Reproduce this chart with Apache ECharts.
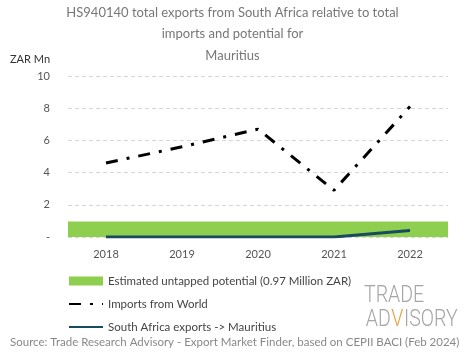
<!DOCTYPE html>
<html><head><meta charset="utf-8">
<script src="https://cdn.jsdelivr.net/npm/echarts@6/dist/echarts.min.js"></script>
<style>html,body{margin:0;padding:0;background:#fff}#c{width:465px;height:359px}</style>
</head><body><div id="c"></div>
<script>
const categories = ['2018','2019','2020','2021','2022'];
const importsWorld = [4.6, 5.6, 6.7, 2.9, 8.1];
const saExports = [0, 0, 0, 0, 0.4];
const potential = [0.97, 0.97, 0.97, 0.97, 0.97];
const yTicks = [0, 2, 4, 6, 8, 10];

const font = 'Lato';
const chart = echarts.init(document.getElementById('c'));
chart.setOption({
  animation: false,
  textStyle: { fontFamily: font },
  title: {
    text: 'HS940140 total exports from South Africa relative to total\nimports and potential for\nMauritius',
    left: 'center', top: -3,
    textStyle: { fontSize: 13, fontWeight: 'normal', color: '#777', lineHeight: 21.5, fontFamily: font }
  },
  graphic: [
    { type: 'text', left: 10, top: 54, style: { text: 'ZAR Mn', fontSize: 11, fill: '#333', fontFamily: font } },
    { type: 'text', left: 10, top: 336, style: { text: 'Source: Trade Research Advisory - Export Market Finder, based on CEPII BACI (Feb 2024)', fontSize: 11.5, fill: '#888', fontFamily: font } },
    { type: 'group', x: 364, y: 285, scaleX: 0.85, children: [
      { type: 'text', x: 0, y: 0, style: { text: 'TRADE', fontSize: 23, fill: '#a6a6a6', fontWeight: 300, fontFamily: 'Roboto' } },
      { type: 'text', x: 2, y: 24, style: { text: 'AD', fontSize: 23, fill: '#a6a6a6', fontWeight: 300, fontFamily: 'Roboto' } },
      { type: 'text', x: 32, y: 24, style: { text: 'V', fontSize: 23, fill: '#e6a040', fontWeight: 300, fontFamily: 'Roboto' } },
      { type: 'text', x: 47, y: 24, style: { text: 'ISORY', fontSize: 23, fill: '#a6a6a6', fontWeight: 300, fontFamily: 'Roboto' } }
    ] }
  ],
  legend: {
    orient: 'vertical', left: 63, top: 270, itemGap: 11,
    itemWidth: 34, itemHeight: 9,
    textStyle: { fontSize: 11.5, color: '#444', fontFamily: font },
    data: [
      { name: 'Estimated untapped potential (0.97 Million ZAR)', icon: 'rect' },
      { name: 'Imports from World', itemStyle: { opacity: 0 } },
      { name: 'South Africa exports -> Mauritius', itemStyle: { opacity: 0 } }
    ]
  },
  grid: { left: 68, right: 17, top: 76, bottom: 122, containLabel: false },
  xAxis: {
    type: 'category', data: categories, boundaryGap: true,
    axisLine: { show: false }, axisTick: { show: false },
    axisLabel: { fontSize: 11, color: '#555', margin: 12 }
  },
  yAxis: {
    type: 'value', min: 0, max: 10, interval: 2,
    axisLine: { show: false }, axisTick: { show: false },
    axisLabel: { fontSize: 11, color: '#555', margin: 18, formatter: v => v === 0 ? '-' : String(v) },
    splitLine: { lineStyle: { type: [4, 3], color: '#d6d6d6' } }
  },
  series: [
    { name: 'Estimated untapped potential (0.97 Million ZAR)', type: 'bar', data: potential,
      barWidth: '100%', barGap: '-100%', barCategoryGap: '0%', itemStyle: { color: '#8fcf50' }, z: 1 },
    { name: 'Imports from World', type: 'line', data: importsWorld, symbol: 'none',
      lineStyle: { color: '#000', width: 3, type: [12, 9, 3, 9] }, itemStyle: { color: '#000' }, z: 3 },
    { name: 'South Africa exports -> Mauritius', type: 'line', data: saExports, symbol: 'none',
      lineStyle: { color: '#1a4a5e', width: 3 }, itemStyle: { color: '#1a4a5e' }, z: 2 }
  ]
});
</script></body></html>
